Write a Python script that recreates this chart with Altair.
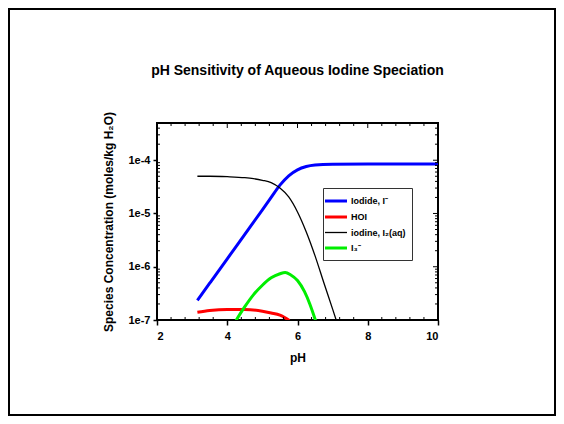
import altair as alt
import pandas as pd

# ---- data ----
series_names = ["Iodide, I\u207b", "HOI", "iodine, I\u2082(aq)", "I\u2083\u207b"]
series_colors = ["#0000ff", "#ff0000", "#000000", "#00ee00"]
series_widths = [3, 3, 1.3, 3]

ph_iodide = [3.15, 3.5, 4.0, 4.5, 5.0, 5.25, 5.5, 5.75, 6.0, 6.25, 6.5, 7.0, 8.0, 10.0]
c_iodide = [2.34e-7, 4.9e-7, 1.41e-6, 4.07e-6, 1.17e-5, 2.0e-5, 3.4e-5, 5.1e-5,
            6.6e-5, 7.6e-5, 8.1e-5, 8.4e-5, 8.5e-5, 8.5e-5]

ph_hoi = [3.15, 3.5, 4.0, 4.5, 5.0, 5.25, 5.5, 5.77]
c_hoi = [1.40e-7, 1.51e-7, 1.58e-7, 1.57e-7, 1.46e-7, 1.35e-7, 1.23e-7, 9.8e-8]

ph_iodine = [3.15, 3.5, 4.0, 4.5, 4.75, 5.0, 5.25, 5.5, 5.75, 6.0, 6.25, 6.5, 6.75, 7.0, 7.2]
c_iodine = [5.0e-5, 5.0e-5, 4.9e-5, 4.7e-5, 4.5e-5, 4.2e-5, 3.8e-5, 3.0e-5, 2.05e-5,
            1.07e-5, 4.5e-6, 1.6e-6, 5.0e-7, 1.6e-7, 6.3e-8]

ph_tri = [4.25, 4.5, 4.75, 5.0, 5.25, 5.5, 5.65, 5.8, 6.0, 6.2, 6.35, 6.52]
c_tri = [9.8e-8, 1.78e-7, 3.0e-7, 4.5e-7, 6.2e-7, 7.4e-7, 7.8e-7, 7.1e-7, 5.5e-7,
         3.4e-7, 2.0e-7, 9.5e-8]

x_major = [2, 4, 6, 8, 10]
x_minor = [2.4, 2.8, 3.2, 3.6, 4.4, 4.8, 5.2, 5.6, 6.4, 6.8, 7.2, 7.6, 8.4, 8.8, 9.2, 9.6]
y_major = [1e-7, 1e-6, 1e-5, 1e-4]
y_minor = [2e-7, 3e-7, 4e-7, 5e-7, 6e-7, 7e-7, 8e-7, 9e-7,
           2e-6, 3e-6, 4e-6, 5e-6, 6e-6, 7e-6, 8e-6, 9e-6,
           2e-5, 3e-5, 4e-5, 5e-5, 6e-5, 7e-5, 8e-5, 9e-5,
           2e-4, 3e-4, 4e-4]

rows = []
for name, phs, cs in zip(series_names,
                         [ph_iodide, ph_hoi, ph_iodine, ph_tri],
                         [c_iodide, c_hoi, c_iodine, c_tri]):
    for i, (p, c) in enumerate(zip(phs, cs)):
        rows.append({"series": name, "pH": p, "conc": c, "order": i})
df = pd.DataFrame(rows)

W, H = 281, 197
PL, PT, PR, PB = 149, 115, 118, 96
FONT = "Arial"

xscale = alt.Scale(domain=[2, 10], nice=False, zero=False)
yscale = alt.Scale(type="log", domain=[1e-7, 5e-4], nice=False)

lines = alt.Chart(df).mark_line(clip=True, interpolate="monotone").encode(
    x=alt.X("pH:Q", scale=xscale,
            axis=alt.Axis(values=x_major, title="pH", tickSize=5, labelPadding=5,
                          titlePadding=11, grid=False, domain=False)),
    y=alt.Y("conc:Q", scale=yscale,
            axis=alt.Axis(values=y_major, title="Species Concentration (moles/kg H\u2082O)",
                          labelExpr="'1e' + round(log(datum.value)/LN10)",
                          tickSize=4, labelPadding=3, titlePadding=12,
                          grid=False, domain=False)),
    color=alt.Color("series:N", sort=series_names,
                    scale=alt.Scale(domain=series_names, range=series_colors),
                    legend=alt.Legend(title=None, orient="none", legendX=166, legendY=65,
                                      symbolType="M-2,0L2,0", symbolSize=121,
                                      symbolStrokeWidth=2.5, labelFontSize=9,
                                      labelFontWeight="bold", labelFont=FONT,
                                      labelOffset=8,
                                      strokeColor="#333333", padding=6,
                                      rowPadding=3, fillColor="white")),
    strokeWidth=alt.StrokeWidth("series:N",
                                scale=alt.Scale(type="ordinal", domain=series_names,
                                                range=series_widths),
                                legend=None),
    detail="series:N",
    order="order:Q",
)

xminor_df = pd.DataFrame({"pH": x_minor})
xmajor_df = pd.DataFrame({"pH": x_major})
yminor_df = pd.DataFrame({"conc": y_minor})
ymajor_df = pd.DataFrame({"conc": y_major})

xb = alt.X("pH:Q", scale=xscale)
yb = alt.Y("conc:Q", scale=yscale)

tick_bot = alt.Chart(xminor_df).mark_rule(color="black", strokeWidth=1).encode(
    x=xb, y=alt.value(H), y2=alt.value(H - 3))
tick_top = alt.Chart(xminor_df).mark_rule(color="black", strokeWidth=1).encode(
    x=xb, y=alt.value(0), y2=alt.value(3))
tick_top_major = alt.Chart(xmajor_df).mark_rule(color="black", strokeWidth=1).encode(
    x=xb, y=alt.value(0), y2=alt.value(5))
tick_left = alt.Chart(yminor_df).mark_rule(color="black", strokeWidth=1).encode(
    y=yb, x=alt.value(0), x2=alt.value(3))
tick_right = alt.Chart(yminor_df).mark_rule(color="black", strokeWidth=1).encode(
    y=yb, x=alt.value(W - 3), x2=alt.value(W))
tick_right_major = alt.Chart(ymajor_df).mark_rule(color="black", strokeWidth=1).encode(
    y=yb, x=alt.value(W - 5), x2=alt.value(W))

frame = alt.Chart(xmajor_df).mark_rect(filled=False, stroke="black", strokeWidth=2).encode(
    x=alt.value(-PL + 1), x2=alt.value(W + PR - 1),
    y=alt.value(-PT + 1), y2=alt.value(H + PB - 1))

chart = alt.layer(
    lines, tick_bot, tick_top, tick_top_major, tick_left, tick_right, tick_right_major, frame
).properties(
    width=W, height=H,
    autosize=alt.AutoSizeParams(type="none"),
    padding={"left": PL, "top": PT, "right": PR, "bottom": PB},
    title=alt.TitleParams("pH Sensitivity of Aqueous Iodine Speciation",
                          fontSize=14, fontWeight="bold", font=FONT,
                          frame="group", offset=-70, anchor="middle"),
).configure_view(
    stroke="black", strokeWidth=2
).configure_axis(
    labelFont=FONT, labelFontSize=11, labelFontWeight="bold", labelColor="black",
    titleFont=FONT, titleFontSize=12, titleFontWeight="bold", titleColor="black",
    tickColor="black", tickWidth=1.5
)

chart.save("out.html", embed_options={"renderer": "svg", "actions": False})
